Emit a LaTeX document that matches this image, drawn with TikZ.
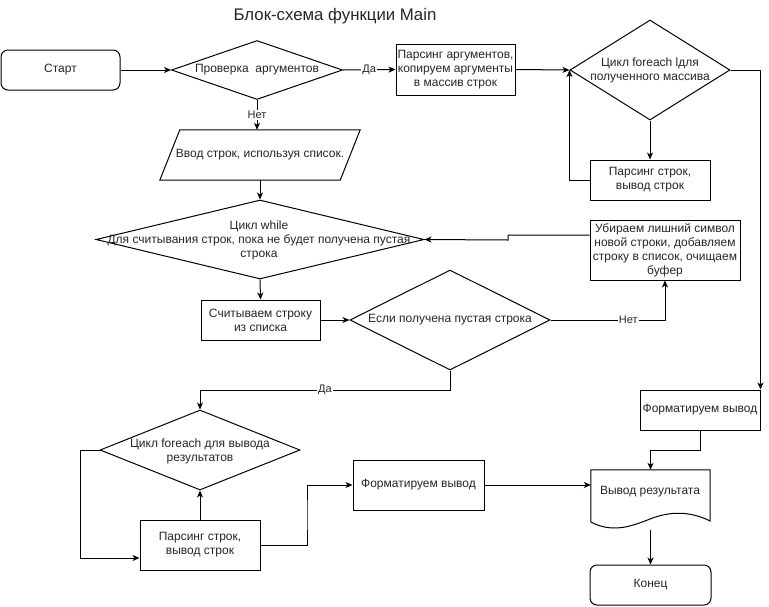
\documentclass[tikz,border=0pt]{standalone}
\usepackage{fontspec}
\setmainfont{Liberation Sans}
\usetikzlibrary{shapes.geometric,arrows.meta,calc}
\begin{document}
\begin{tikzpicture}[x=1pt,y=-1pt,
  every node/.style={font=\fontsize{12}{14}\selectfont, text=black!85},
  line/.style={line width=1pt},
  arr/.style={line width=1pt,-{Stealth[length=7pt,width=6pt,inset=2pt]}},
  boxn/.style={draw,line width=1pt,rectangle,inner sep=0pt,align=center},
  roundn/.style={draw,line width=1pt,rectangle,rounded corners=7pt,inner sep=0pt,align=center},
  dia/.style={draw,line width=1pt,diamond,inner sep=0pt},
  ghost/.style={inner sep=0pt,rectangle},
  lbl/.style={fill=white,inner sep=1pt,font=\fontsize{11}{13}\selectfont}
]
\useasboundingbox[fill=white] (0,0) rectangle (769,606);

\node (title) at (335,16) {\fontsize{16.8}{20}\selectfont Блок-схема функции Main};

\node[roundn,minimum width=119,minimum height=40] (start) at (60.5,70) {Старт};

\node[dia,minimum width=171,minimum height=59] (d1) at (257,70) {};
\node (d1t) at (d1) {Проверка\ \ аргументов};

\node[boxn,minimum width=119,minimum height=51] (b1) at (455.5,69.5)
  {Парсинг аргументов,\\копируем аргументы\\в массив строк};

\node[dia,minimum width=160,minimum height=100] (d2) at (650,70) {};
\node[align=center] (d2t) at (d2) {Цикл foreach lдля\\полученного массива};

\node[boxn,minimum width=120,minimum height=40] (b2) at (650,180) {Парсинг строк,\\вывод строк};

\node[ghost,minimum width=200,minimum height=50] (par) at (260,155) {Ввод строк, используя список.};
\draw[line] (par.south west) -- ([xshift=-20pt]par.south east) -- (par.north east)
  -- ([xshift=20pt]par.north west) -- cycle;

\node[dia,minimum width=328,minimum height=79] (wh) at (260,239.5) {};
\node[align=center] (wht) at (259,240) {Цикл while\\Для считывания строк, пока не будет получена пустая\\строка};

\node[boxn,minimum width=119,minimum height=40] (b3) at (260.5,320) {Считываем строку\\из списка};

\node[dia,minimum width=200,minimum height=100] (d3) at (450,320) {};
\node (d3t) at (d3) {Если получена пустая строка};

\node[boxn,minimum width=150,minimum height=60] (b4) at (665,250)
  {Убираем лишний символ\\новой строки, добавляем\\строку в список, очищаем\\буфер};

\node[dia,minimum width=200,minimum height=80] (d4) at (200,450) {};
\node[align=center] (d4t) at (200,451) {Цикл foreach для вывода\\результатов};

\node[boxn,minimum width=120,minimum height=50] (b5) at (200,545) {Парсинг строк,\\вывод строк};

\node[boxn,minimum width=131,minimum height=50] (f1) at (418.5,485) {Форматируем вывод};

\node[boxn,minimum width=120,minimum height=40] (f2) at (700,410) {Форматируем вывод};

\node[ghost,minimum width=119,minimum height=60] (doc) at (650.5,500) {};
\draw[line] (doc.south west |- 0,522) -- (doc.north west) -- (doc.north east) -- (doc.east |- 0,521)
  .. controls (690,511) and (670,511) .. (650,519)
  .. controls (630,527) and (612,533) .. (doc.south west |- 0,522);
\node (doct) at (650,492) {Вывод результата};

\node[roundn,minimum width=121,minimum height=40] (end) at (650.5,585) {Конец};

% coordinates
\coordinate (j1) at (508,235);
\coordinate (j2) at (508,240);
\coordinate (j3) at (450,390);
\coordinate (j4) at (80,450);
\coordinate (j5) at (307,515);
\coordinate (j6) at (700,450);

% connectors
\draw[arr] (start) -- (d1);
\draw[arr] (d1.east) -- (b1.west) node[lbl,midway] {Да};
\draw[arr] (b1.east) -- (d2.west);
\draw[arr] (d2.south) -- (b2.north);
\draw[arr] (b2.west) -| (d2.west);
\draw[arr] (d2.east) -| (f2.north east);
\draw[arr] (d1.south) -- (d1.south |- par.north) node[lbl,pos=0.5] {Нет};
\draw[arr] (par.south) -- (wh.north);
\draw[arr] (wh.south) -- (b3.north);
\draw[arr] (b3.east) -- (d3.west);
\draw[arr] (d3.east) -| (b4.south) node[lbl,pos=0.34] {Нет};
\draw[arr] ([yshift=15pt]b4.west) -- (j1) -- (j2) -- (wh.east);
\draw[arr] (d3.south) -- (j3) -| (d4.north) node[lbl,pos=0.25] {Да};
\draw[arr] (b5.north) -- (d4.south);
\draw[arr] (d4.west) -- (j4) |- ([yshift=-13pt]b5.west);
\draw[arr] (b5.east) -| (j5) |- (f1.west);
\draw[arr] (f1.east) -- (f1.east -| doc.west);
\draw[arr] (f2.south) -- (j6) -| (doc.north);
\draw[arr] (doc.south) -- (end.north);
\end{tikzpicture}
\end{document}
